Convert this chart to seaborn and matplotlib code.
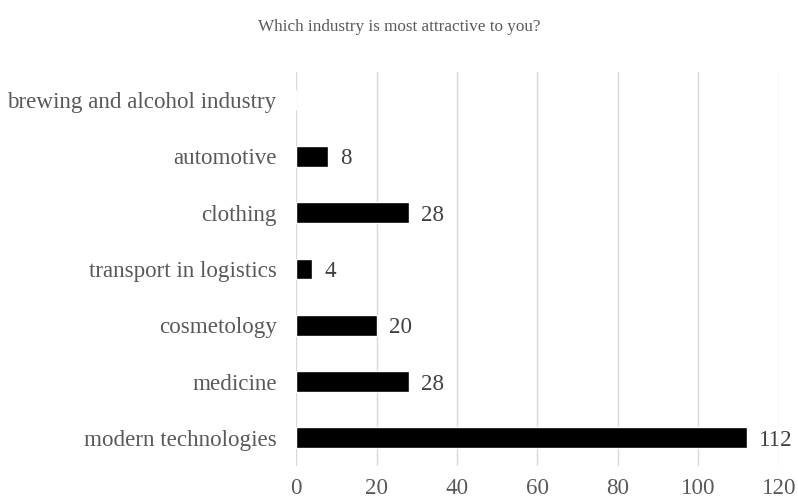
import matplotlib
matplotlib.use("Agg")
import matplotlib.pyplot as plt
import seaborn as sns
import pandas as pd

# data
industries = ["brewing and alcohol industry", "automotive", "clothing",
              "transport in logistics", "cosmetology", "medicine",
              "modern technologies"]
counts = [0, 8, 28, 4, 20, 28, 112]

df = pd.DataFrame({"industry": industries, "count": counts})

sns.set_style("white")
plt.rcParams["font.family"] = ["Liberation Serif", "DejaVu Serif"]

fig = plt.figure(figsize=(7.98, 5.03), dpi=100)
ax = fig.add_axes([0.371, 0.0736, 0.605, 0.7834])

sns.barplot(data=df, x="count", y="industry", color="black", width=0.37,
            saturation=1, ax=ax, zorder=3)

ax.set_xlim(0, 120)
ax.set_xticks(range(0, 121, 20))
ax.xaxis.grid(True, color="#d9d9d9", linewidth=1, zorder=0)
ax.set_axisbelow(True)
for s in ax.spines.values():
    s.set_visible(False)
ax.set_xlabel("")
ax.set_ylabel("")
ax.tick_params(axis="both", length=0, labelsize=16.6, colors="#595959")
ax.tick_params(axis="y", pad=14)
ax.tick_params(axis="x", pad=9)

for i, v in enumerate(counts):
    if v > 0:
        ax.text(v + 3, i, str(v), va="center_baseline", ha="left",
                fontsize=16.6, color="#404040")

fig.suptitle("Which industry is most attractive to you?", y=0.962,
             fontsize=12.3, color="#595959")

fig.savefig("out.png", dpi=100)
